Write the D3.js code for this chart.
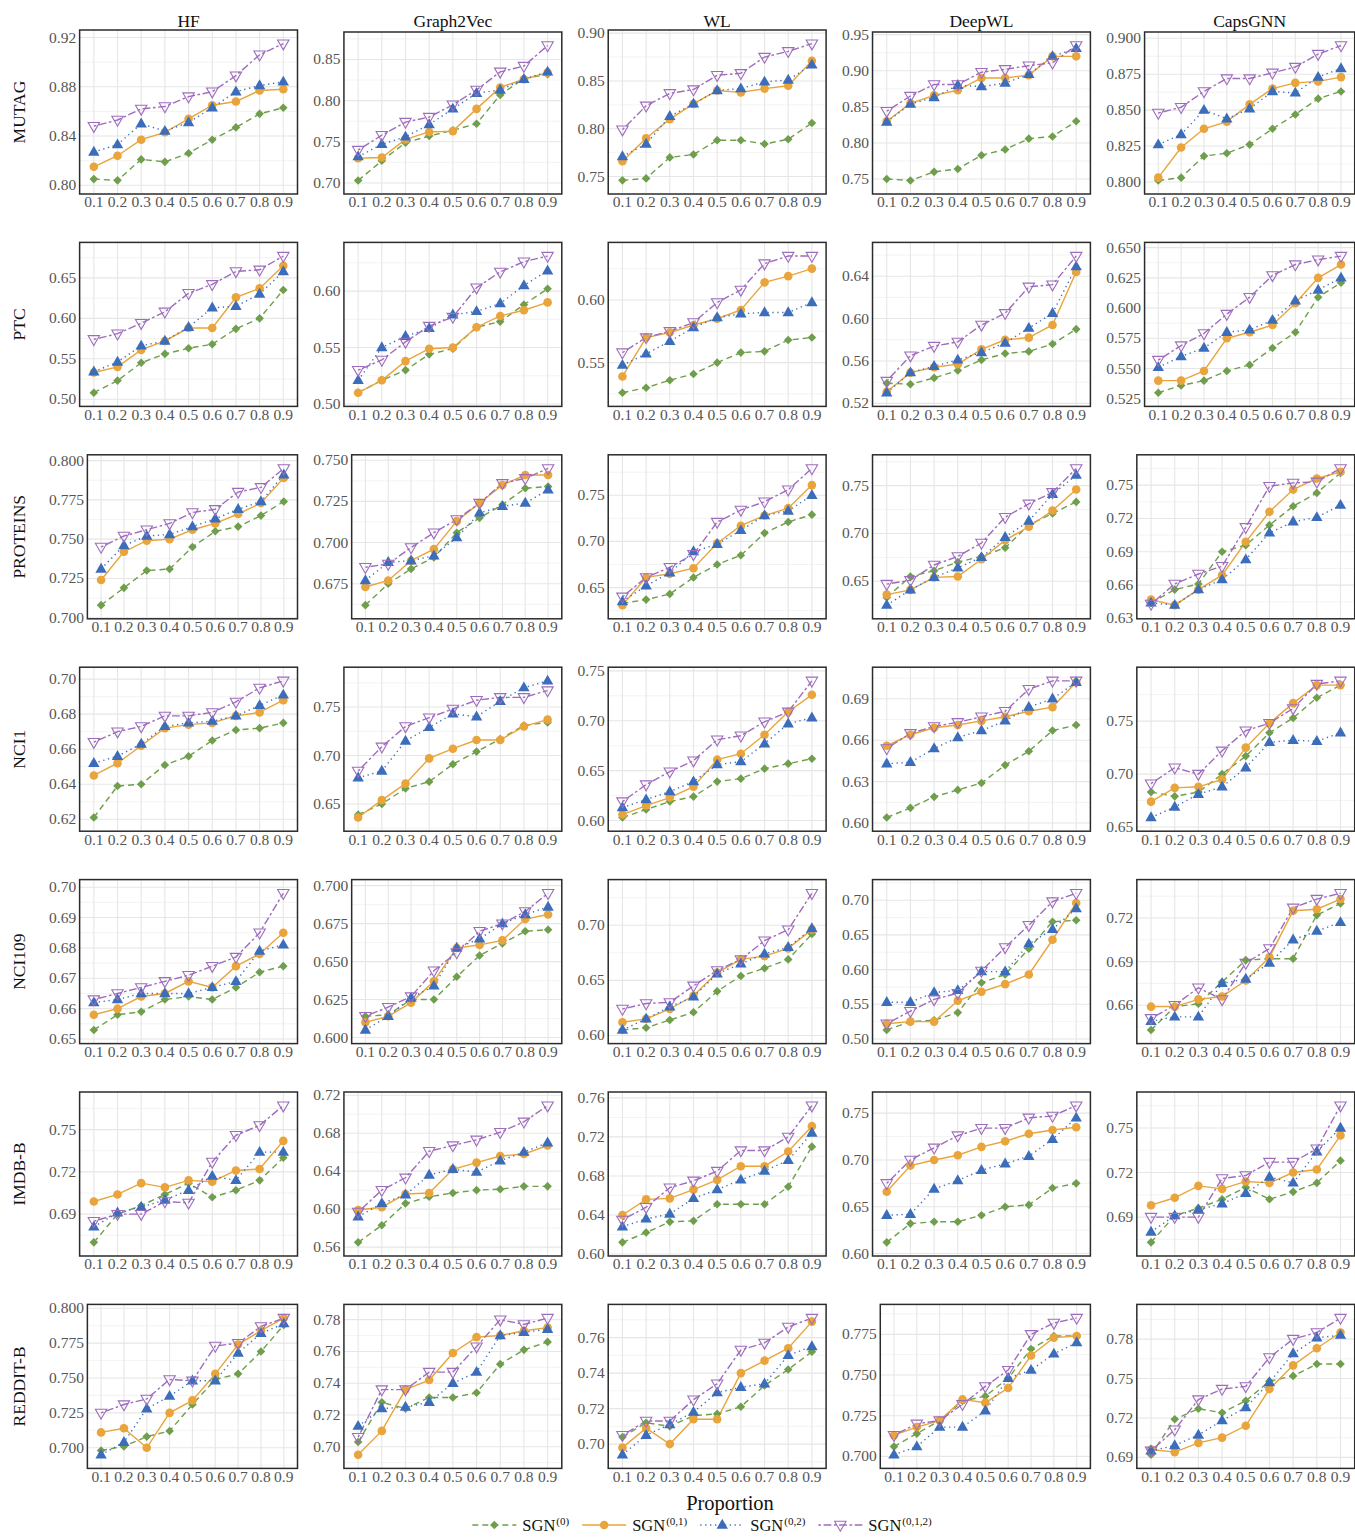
<!DOCTYPE html>
<html>
<head>
<meta charset="utf-8">
<script src="https://cdn.jsdelivr.net/npm/d3@7"></script>
<style>
  body { margin: 0; background: #fff; }
  svg text { font-family: "Liberation Serif", "Times New Roman", Times, serif; }
</style>
</head>
<body>
<svg id="fig" width="1355" height="1538"></svg>
<script>
// ---- categories ----
const DATASETS = ["MUTAG", "PTC", "PROTEINS", "NCI1", "NCI109", "IMDB-B", "REDDIT-B"];
const METHODS = ["HF", "Graph2Vec", "WL", "DeepWL", "CapsGNN"];
const PROPORTIONS = ["0.1", "0.2", "0.3", "0.4", "0.5", "0.6", "0.7", "0.8", "0.9"];
const SERIES = ["(0)", "(0,1)", "(0,2)", "(0,1,2)"];

// ---- accuracy per panel: rows = SGN(0), SGN(0,1), SGN(0,2), SGN(0,1,2) ----
const MUTAG_HF = [
  [0.805,0.804,0.821,0.819,0.826,0.837,0.847,0.858,0.863],
  [0.815,0.824,0.837,0.843,0.854,0.865,0.868,0.877,0.878],
  [0.827,0.833,0.850,0.844,0.851,0.863,0.876,0.881,0.884],
  [0.848,0.853,0.862,0.864,0.872,0.876,0.889,0.906,0.915]];
const MUTAG_GRAPH2VEC = [
  [0.703,0.727,0.749,0.757,0.764,0.772,0.807,0.827,0.832],
  [0.730,0.731,0.753,0.762,0.763,0.790,0.816,0.826,0.834],
  [0.732,0.747,0.756,0.771,0.790,0.809,0.813,0.826,0.835],
  [0.740,0.758,0.774,0.780,0.795,0.813,0.835,0.842,0.867]];
const MUTAG_WL = [
  [0.746,0.748,0.770,0.773,0.788,0.788,0.784,0.789,0.806],
  [0.766,0.790,0.810,0.826,0.840,0.838,0.842,0.845,0.871],
  [0.771,0.784,0.813,0.826,0.840,0.842,0.849,0.851,0.867],
  [0.799,0.824,0.837,0.841,0.856,0.858,0.875,0.881,0.889]];
const MUTAG_DEEPWL = [
  [0.750,0.748,0.760,0.764,0.783,0.791,0.806,0.809,0.830],
  [0.830,0.855,0.866,0.873,0.890,0.890,0.894,0.920,0.920],
  [0.829,0.854,0.863,0.880,0.878,0.883,0.895,0.920,0.931],
  [0.844,0.865,0.881,0.881,0.898,0.902,0.907,0.911,0.935]];
const MUTAG_CAPSGNN = [
  [0.801,0.803,0.818,0.820,0.826,0.837,0.847,0.858,0.863],
  [0.803,0.824,0.837,0.842,0.854,0.865,0.869,0.870,0.873],
  [0.826,0.833,0.850,0.844,0.851,0.863,0.862,0.873,0.879],
  [0.848,0.852,0.863,0.872,0.872,0.876,0.880,0.889,0.895]];

const PTC_HF = [
  [0.508,0.523,0.545,0.556,0.563,0.568,0.587,0.600,0.635],
  [0.533,0.540,0.561,0.572,0.588,0.588,0.626,0.637,0.665],
  [0.534,0.546,0.566,0.572,0.589,0.613,0.615,0.630,0.658],
  [0.574,0.581,0.594,0.608,0.631,0.642,0.658,0.660,0.677]];
const PTC_GRAPH2VEC = [
  [0.510,0.521,0.530,0.544,0.549,0.568,0.573,0.588,0.602],
  [0.510,0.521,0.538,0.549,0.550,0.568,0.578,0.583,0.590],
  [0.521,0.550,0.560,0.567,0.579,0.582,0.589,0.605,0.618],
  [0.530,0.539,0.555,0.569,0.577,0.603,0.617,0.626,0.631]];
const PTC_WL = [
  [0.526,0.530,0.536,0.541,0.550,0.558,0.559,0.568,0.570],
  [0.539,0.570,0.574,0.580,0.585,0.592,0.614,0.619,0.625],
  [0.548,0.557,0.567,0.578,0.586,0.589,0.590,0.590,0.598],
  [0.558,0.570,0.575,0.582,0.598,0.608,0.629,0.635,0.635]];
const PTC_DEEPWL = [
  [0.539,0.538,0.544,0.551,0.561,0.567,0.569,0.576,0.590],
  [0.531,0.549,0.554,0.557,0.571,0.580,0.582,0.594,0.644],
  [0.530,0.549,0.555,0.561,0.568,0.577,0.591,0.605,0.649],
  [0.541,0.565,0.574,0.578,0.594,0.605,0.630,0.632,0.659]];
const PTC_CAPSGNN = [
  [0.530,0.536,0.540,0.548,0.553,0.567,0.580,0.609,0.621],
  [0.540,0.540,0.548,0.575,0.580,0.586,0.604,0.625,0.636],
  [0.551,0.560,0.567,0.580,0.582,0.590,0.606,0.615,0.625],
  [0.557,0.569,0.579,0.595,0.609,0.627,0.636,0.640,0.643]];

const PROTEINS_HF = [
  [0.708,0.719,0.730,0.731,0.745,0.755,0.758,0.765,0.774],
  [0.724,0.742,0.749,0.750,0.756,0.760,0.766,0.773,0.789],
  [0.731,0.746,0.752,0.753,0.758,0.763,0.769,0.774,0.791],
  [0.745,0.752,0.756,0.760,0.767,0.769,0.780,0.783,0.795]];
const PROTEINS_GRAPH2VEC = [
  [0.662,0.675,0.684,0.691,0.706,0.715,0.723,0.733,0.734],
  [0.673,0.677,0.689,0.696,0.713,0.724,0.735,0.741,0.741],
  [0.677,0.688,0.689,0.692,0.703,0.718,0.722,0.724,0.732],
  [0.685,0.687,0.697,0.706,0.714,0.724,0.736,0.739,0.745]];
const PROTEINS_WL = [
  [0.633,0.637,0.643,0.661,0.675,0.685,0.709,0.721,0.729],
  [0.631,0.661,0.665,0.671,0.698,0.717,0.728,0.736,0.761],
  [0.635,0.652,0.666,0.689,0.697,0.712,0.728,0.733,0.750],
  [0.640,0.661,0.672,0.686,0.721,0.734,0.743,0.756,0.779]];
const PROTEINS_DEEPWL = [
  [0.633,0.655,0.661,0.670,0.676,0.685,0.709,0.721,0.733],
  [0.636,0.641,0.654,0.655,0.673,0.693,0.707,0.724,0.746],
  [0.625,0.641,0.654,0.664,0.675,0.696,0.713,0.741,0.761],
  [0.647,0.651,0.667,0.676,0.690,0.717,0.731,0.743,0.768]];
const PROTEINS_CAPSGNN = [
  [0.644,0.656,0.661,0.690,0.696,0.714,0.731,0.743,0.761],
  [0.647,0.642,0.656,0.669,0.699,0.726,0.746,0.756,0.762],
  [0.644,0.642,0.656,0.665,0.683,0.707,0.717,0.721,0.732],
  [0.643,0.661,0.670,0.677,0.712,0.749,0.752,0.753,0.765]];

const NCI1_HF = [
  [0.621,0.639,0.640,0.651,0.656,0.665,0.671,0.672,0.675],
  [0.645,0.652,0.662,0.672,0.674,0.675,0.679,0.681,0.688],
  [0.652,0.656,0.663,0.673,0.675,0.676,0.679,0.685,0.691],
  [0.664,0.670,0.673,0.679,0.679,0.681,0.687,0.695,0.699]];
const NCI1_GRAPH2VEC = [
  [0.639,0.650,0.666,0.673,0.691,0.704,0.717,0.731,0.734],
  [0.636,0.654,0.671,0.697,0.707,0.716,0.716,0.730,0.737],
  [0.677,0.684,0.715,0.729,0.743,0.740,0.756,0.770,0.777],
  [0.684,0.709,0.730,0.739,0.748,0.757,0.760,0.760,0.767]];
const NCI1_WL = [
  [0.603,0.611,0.619,0.624,0.639,0.642,0.652,0.657,0.662],
  [0.606,0.615,0.623,0.634,0.661,0.667,0.686,0.709,0.726],
  [0.613,0.621,0.629,0.639,0.656,0.659,0.677,0.697,0.703],
  [0.619,0.636,0.649,0.660,0.681,0.685,0.699,0.709,0.740]];
const NCI1_DEEPWL = [
  [0.604,0.611,0.619,0.624,0.629,0.642,0.652,0.667,0.671],
  [0.656,0.664,0.669,0.671,0.674,0.677,0.681,0.684,0.702],
  [0.643,0.644,0.654,0.662,0.667,0.674,0.684,0.690,0.702],
  [0.654,0.665,0.670,0.673,0.677,0.681,0.697,0.703,0.703]];
const NCI1_CAPSGNN = [
  [0.683,0.679,0.683,0.700,0.717,0.739,0.753,0.772,0.784],
  [0.674,0.687,0.688,0.695,0.725,0.748,0.767,0.784,0.784],
  [0.659,0.669,0.681,0.688,0.706,0.730,0.732,0.731,0.739],
  [0.691,0.706,0.700,0.722,0.741,0.748,0.762,0.785,0.788]];

const NCI109_HF = [
  [0.653,0.658,0.659,0.663,0.664,0.663,0.667,0.672,0.674],
  [0.658,0.660,0.664,0.665,0.669,0.667,0.674,0.678,0.685],
  [0.662,0.663,0.665,0.665,0.665,0.667,0.669,0.679,0.681],
  [0.663,0.665,0.667,0.669,0.671,0.674,0.677,0.685,0.698]];
const NCI109_GRAPH2VEC = [
  [0.614,0.615,0.625,0.625,0.640,0.654,0.662,0.670,0.671],
  [0.610,0.614,0.623,0.637,0.659,0.661,0.664,0.678,0.681],
  [0.605,0.614,0.626,0.634,0.659,0.665,0.675,0.681,0.686],
  [0.614,0.620,0.627,0.644,0.656,0.670,0.675,0.683,0.695]];
const NCI109_WL = [
  [0.605,0.607,0.614,0.621,0.640,0.654,0.661,0.669,0.692],
  [0.612,0.615,0.624,0.636,0.657,0.669,0.672,0.679,0.696],
  [0.605,0.615,0.626,0.635,0.656,0.665,0.674,0.680,0.697],
  [0.624,0.629,0.630,0.645,0.659,0.669,0.686,0.696,0.729]];
const NCI109_DEEPWL = [
  [0.513,0.525,0.527,0.538,0.581,0.593,0.630,0.669,0.671],
  [0.522,0.525,0.525,0.555,0.568,0.579,0.593,0.643,0.696],
  [0.553,0.553,0.567,0.570,0.597,0.597,0.637,0.658,0.688],
  [0.522,0.540,0.557,0.566,0.598,0.632,0.664,0.698,0.710]];
const NCI109_CAPSGNN = [
  [0.643,0.659,0.661,0.676,0.691,0.692,0.692,0.722,0.730],
  [0.659,0.659,0.664,0.666,0.677,0.693,0.725,0.726,0.733],
  [0.649,0.652,0.652,0.675,0.678,0.689,0.705,0.711,0.717],
  [0.651,0.660,0.672,0.664,0.689,0.699,0.727,0.733,0.737]];

const IMDBB_HF = [
  [0.670,0.690,0.696,0.704,0.712,0.702,0.707,0.714,0.730],
  [0.699,0.704,0.712,0.709,0.714,0.713,0.721,0.722,0.742],
  [0.681,0.691,0.695,0.700,0.707,0.717,0.714,0.734,0.734],
  [0.685,0.690,0.690,0.699,0.698,0.727,0.746,0.753,0.767]];
const IMDBB_GRAPH2VEC = [
  [0.565,0.583,0.606,0.613,0.617,0.620,0.621,0.624,0.624],
  [0.599,0.602,0.616,0.617,0.642,0.649,0.656,0.658,0.667],
  [0.592,0.606,0.615,0.636,0.642,0.639,0.651,0.660,0.670],
  [0.597,0.620,0.633,0.661,0.667,0.673,0.681,0.692,0.709]];
const IMDBB_WL = [
  [0.612,0.622,0.633,0.634,0.651,0.651,0.651,0.669,0.710],
  [0.640,0.656,0.657,0.666,0.676,0.690,0.690,0.705,0.731],
  [0.628,0.636,0.641,0.657,0.666,0.676,0.685,0.696,0.724],
  [0.635,0.648,0.668,0.675,0.685,0.706,0.706,0.720,0.752]];
const IMDBB_DEEPWL = [
  [0.612,0.632,0.634,0.634,0.641,0.650,0.652,0.670,0.675],
  [0.666,0.694,0.700,0.705,0.714,0.720,0.728,0.732,0.735],
  [0.641,0.642,0.669,0.678,0.689,0.696,0.704,0.722,0.745],
  [0.675,0.700,0.713,0.726,0.734,0.734,0.745,0.747,0.758]];
const IMDBB_CAPSGNN = [
  [0.673,0.691,0.696,0.702,0.710,0.702,0.707,0.713,0.728],
  [0.698,0.703,0.711,0.709,0.714,0.713,0.720,0.722,0.745],
  [0.680,0.691,0.695,0.699,0.706,0.717,0.713,0.734,0.750],
  [0.690,0.690,0.690,0.716,0.718,0.727,0.727,0.736,0.765]];

const REDDITB_HF = [
  [0.698,0.701,0.708,0.712,0.731,0.749,0.753,0.769,0.788],
  [0.711,0.714,0.700,0.725,0.734,0.753,0.774,0.784,0.793],
  [0.695,0.704,0.728,0.737,0.748,0.748,0.768,0.782,0.789],
  [0.725,0.731,0.735,0.749,0.748,0.773,0.775,0.787,0.793]];
const REDDITB_GRAPH2VEC = [
  [0.703,0.728,0.724,0.731,0.731,0.734,0.752,0.761,0.766],
  [0.695,0.710,0.736,0.742,0.759,0.769,0.770,0.773,0.775],
  [0.713,0.724,0.725,0.728,0.740,0.747,0.770,0.772,0.774],
  [0.706,0.736,0.736,0.747,0.747,0.763,0.780,0.777,0.781]];
const REDDITB_WL = [
  [0.704,0.712,0.710,0.716,0.717,0.721,0.733,0.742,0.752],
  [0.698,0.709,0.700,0.714,0.714,0.740,0.747,0.754,0.769],
  [0.694,0.705,0.711,0.718,0.729,0.732,0.734,0.750,0.755],
  [0.705,0.713,0.713,0.725,0.734,0.753,0.757,0.766,0.771]];
const REDDITB_DEEPWL = [
  [0.706,0.714,0.722,0.734,0.737,0.748,0.766,0.774,0.774],
  [0.713,0.718,0.722,0.735,0.733,0.742,0.762,0.773,0.774],
  [0.701,0.706,0.718,0.718,0.728,0.748,0.753,0.763,0.770],
  [0.713,0.720,0.722,0.732,0.743,0.753,0.775,0.782,0.785]];
const REDDITB_CAPSGNN = [
  [0.692,0.719,0.727,0.724,0.733,0.748,0.752,0.761,0.761],
  [0.696,0.694,0.701,0.705,0.714,0.742,0.760,0.773,0.785],
  [0.695,0.699,0.707,0.718,0.728,0.747,0.769,0.781,0.783],
  [0.695,0.711,0.734,0.742,0.744,0.766,0.780,0.785,0.796]];

// ---- y tick labels, one list per method, per dataset ----
const MUTAG_TICKS = [
  ["0.80","0.84","0.88","0.92"], ["0.70","0.75","0.80","0.85"], ["0.75","0.80","0.85","0.90"],
  ["0.75","0.80","0.85","0.90","0.95"], ["0.800","0.825","0.850","0.875","0.900"]];
const PTC_TICKS = [
  ["0.50","0.55","0.60","0.65"], ["0.50","0.55","0.60"], ["0.55","0.60"],
  ["0.52","0.56","0.60","0.64"], ["0.525","0.550","0.575","0.600","0.625","0.650"]];
const PROTEINS_TICKS = [
  ["0.700","0.725","0.750","0.775","0.800"], ["0.675","0.700","0.725","0.750"], ["0.65","0.70","0.75"],
  ["0.65","0.70","0.75"], ["0.63","0.66","0.69","0.72","0.75"]];
const NCI1_TICKS = [
  ["0.62","0.64","0.66","0.68","0.70"], ["0.65","0.70","0.75"], ["0.60","0.65","0.70","0.75"],
  ["0.60","0.63","0.66","0.69"], ["0.65","0.70","0.75"]];
const NCI109_TICKS = [
  ["0.65","0.66","0.67","0.68","0.69","0.70"], ["0.600","0.625","0.650","0.675","0.700"], ["0.60","0.65","0.70"],
  ["0.50","0.55","0.60","0.65","0.70"], ["0.66","0.69","0.72"]];
const IMDBB_TICKS = [
  ["0.69","0.72","0.75"], ["0.56","0.60","0.64","0.68","0.72"], ["0.60","0.64","0.68","0.72","0.76"],
  ["0.60","0.65","0.70","0.75"], ["0.69","0.72","0.75"]];
const REDDITB_TICKS = [
  ["0.700","0.725","0.750","0.775","0.800"], ["0.70","0.72","0.74","0.76","0.78"], ["0.70","0.72","0.74","0.76"],
  ["0.700","0.725","0.750","0.775"], ["0.69","0.72","0.75","0.78"]];

// panel grid built from the named arrays above
const GRID = [
  [MUTAG_HF, MUTAG_GRAPH2VEC, MUTAG_WL, MUTAG_DEEPWL, MUTAG_CAPSGNN],
  [PTC_HF, PTC_GRAPH2VEC, PTC_WL, PTC_DEEPWL, PTC_CAPSGNN],
  [PROTEINS_HF, PROTEINS_GRAPH2VEC, PROTEINS_WL, PROTEINS_DEEPWL, PROTEINS_CAPSGNN],
  [NCI1_HF, NCI1_GRAPH2VEC, NCI1_WL, NCI1_DEEPWL, NCI1_CAPSGNN],
  [NCI109_HF, NCI109_GRAPH2VEC, NCI109_WL, NCI109_DEEPWL, NCI109_CAPSGNN],
  [IMDBB_HF, IMDBB_GRAPH2VEC, IMDBB_WL, IMDBB_DEEPWL, IMDBB_CAPSGNN],
  [REDDITB_HF, REDDITB_GRAPH2VEC, REDDITB_WL, REDDITB_DEEPWL, REDDITB_CAPSGNN]];
const TICK_GRID = [MUTAG_TICKS, PTC_TICKS, PROTEINS_TICKS, NCI1_TICKS, NCI109_TICKS, IMDBB_TICKS, REDDITB_TICKS];

// ---- styling ----
const COLORS = ["#6f9e4c", "#e9a43b", "#3c6dbb", "#9e6cbc"];
const DASHES = ["6,4", null, "1.3,3.6", "2.6,2.6,7.8,2.6"];
const MARKERS = [
  "M0,-4.3L4.3,0L0,4.3L-4.3,0Z",          // diamond
  null,                                   // circle
  "M0,-6.2L5.7,3.7L-5.7,3.7Z",            // filled triangle up
  "M0,6.2L5.7,-3.7L-5.7,-3.7Z"            // open triangle down
];

const TICK_FONT = 15.5, TITLE_FONT = 17.5;
const ROW0_TOP = 30, ROW_STEP = 212.4, PANEL_H = 164;
const COL0_LEFT = 49, COL_STEP = 264.3, COL0_RIGHT = 297.5;

const svg = d3.select("#fig");

function textWidth(str, size) {
  const t = svg.append("text").attr("font-size", size).text(str);
  const w = t.node().getComputedTextLength();
  t.remove();
  return w;
}

function drawMarker(sel, i, color) {
  if (i === 1) {
    sel.append("circle").attr("r", 4.3).attr("fill", color);
  } else if (i === 3) {
    sel.append("path").attr("d", MARKERS[i]).attr("fill", "none")
      .attr("stroke", color).attr("stroke-width", 1.1);
  } else {
    sel.append("path").attr("d", MARKERS[i]).attr("fill", color);
  }
}

GRID.forEach((row, r) => {
  row.forEach((series, c) => {
    const labels = TICK_GRID[r][c];
    const ticks = labels.map(Number);
    const labelW = d3.max(labels, l => textWidth(l, TICK_FONT));
    const left = COL0_LEFT + COL_STEP * c + labelW + 3.5;
    const right = COL0_RIGHT + COL_STEP * c;
    let top = ROW0_TOP + ROW_STEP * r;
    const bottom = top + PANEL_H;
    if (r === 0 && /[gjpqy]/.test(METHODS[c])) top += 2;

    const all = series.flat();
    const lo = d3.min(all), hi = d3.max(all), pad = (hi - lo) * 0.1;
    const y = d3.scaleLinear().domain([lo - pad, hi + pad]).range([bottom, top]);
    const x = d3.scalePoint().domain(PROPORTIONS).range([left, right]).padding(0.6);

    const g = svg.append("g");
    g.append("rect").attr("x", left).attr("y", top)
      .attr("width", right - left).attr("height", bottom - top).attr("fill", "#fff");

    // minor and major grid
    const step = ticks[1] - ticks[0];
    const minors = [ticks[0] - step / 2, ...ticks.map(t => t + step / 2)]
      .filter(v => v > y.domain()[0] && v < y.domain()[1]);
    g.selectAll(".minor").data(minors).join("line")
      .attr("x1", left).attr("x2", right)
      .attr("y1", d => y(d)).attr("y2", d => y(d))
      .attr("stroke", "#f0f0f0").attr("stroke-width", 0.8);
    g.selectAll(".majory").data(ticks).join("line")
      .attr("x1", left).attr("x2", right)
      .attr("y1", d => y(d)).attr("y2", d => y(d))
      .attr("stroke", "#e6e6e6").attr("stroke-width", 1.1);
    g.selectAll(".majorx").data(PROPORTIONS).join("line")
      .attr("x1", d => x(d)).attr("x2", d => x(d))
      .attr("y1", top).attr("y2", bottom)
      .attr("stroke", "#e6e6e6").attr("stroke-width", 1.1);

    // lines first, then markers
    const line = d3.line().x((d, i) => x(PROPORTIONS[i])).y(d => y(d));
    series.forEach((vals, s) => {
      g.append("path").attr("d", line(vals)).attr("fill", "none")
        .attr("stroke", COLORS[s]).attr("stroke-width", 1.4)
        .attr("stroke-dasharray", DASHES[s]);
    });
    series.forEach((vals, s) => {
      vals.forEach((v, i) => {
        const m = g.append("g").attr("transform", `translate(${x(PROPORTIONS[i])},${y(v)})`);
        drawMarker(m, s, COLORS[s]);
      });
    });

    g.append("rect").attr("x", left).attr("y", top)
      .attr("width", right - left).attr("height", bottom - top)
      .attr("fill", "none").attr("stroke", "#2b2b2b").attr("stroke-width", 1.5);

    // tick labels
    g.selectAll(".yl").data(ticks).join("text")
      .attr("x", left - 3.5).attr("y", d => y(d) + 5)
      .attr("text-anchor", "end").attr("font-size", TICK_FONT).attr("fill", "#555")
      .text((d, i) => labels[i]);
    g.selectAll(".xl").data(PROPORTIONS).join("text")
      .attr("x", d => x(d)).attr("y", bottom + 13.3)
      .attr("text-anchor", "middle").attr("font-size", TICK_FONT).attr("fill", "#555")
      .text(d => d);

    if (r === 0) {
      svg.append("text").attr("x", (left + right) / 2).attr("y", 27)
        .attr("text-anchor", "middle").attr("font-size", TITLE_FONT).attr("fill", "#111")
        .text(METHODS[c]);
    }
    if (c === 0) {
      const cy = (top + bottom) / 2;
      svg.append("text").attr("transform", `translate(25,${cy}) rotate(-90)`)
        .attr("text-anchor", "middle").attr("font-size", TITLE_FONT).attr("fill", "#111")
        .text(DATASETS[r]);
    }
  });
});

// shared x-axis title
svg.append("text").attr("x", 730).attr("y", 1510).attr("text-anchor", "middle")
  .attr("font-size", 20.5).attr("fill", "#111").text("Proportion");

// legend
const KEY_W = 44, KEY_GAP = 6, ITEM_GAP = 13, LEG_Y = 1525, LEG_CX = 702;
const itemW = SERIES.map(s => textWidth("SGN", 16.5) + textWidth(s, 11) + 1);
const totalW = d3.sum(itemW) + SERIES.length * (KEY_W + KEY_GAP) + (SERIES.length - 1) * ITEM_GAP;
let lx = LEG_CX - totalW / 2;
SERIES.forEach((s, i) => {
  svg.append("line").attr("x1", lx).attr("x2", lx + KEY_W).attr("y1", LEG_Y).attr("y2", LEG_Y)
    .attr("stroke", COLORS[i]).attr("stroke-width", 1.4).attr("stroke-dasharray", DASHES[i]);
  const m = svg.append("g").attr("transform", `translate(${lx + KEY_W / 2},${LEG_Y})`);
  drawMarker(m, i, COLORS[i]);
  const t = svg.append("text").attr("x", lx + KEY_W + KEY_GAP).attr("y", LEG_Y + 5.5)
    .attr("font-size", 16.5).attr("fill", "#111");
  t.append("tspan").text("SGN");
  t.append("tspan").attr("dx", 1).attr("dy", -6).attr("font-size", 11).text(s);
  lx += KEY_W + KEY_GAP + itemW[i] + ITEM_GAP;
});
</script>
</body>
</html>
